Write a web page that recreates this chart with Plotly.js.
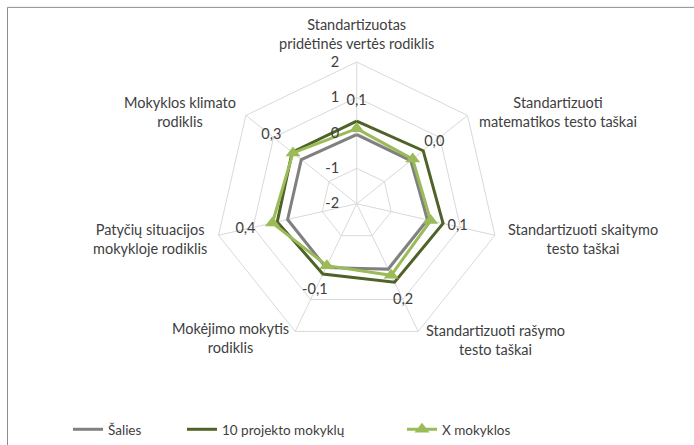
<!DOCTYPE html>
<html>
<head>
<meta charset="utf-8">
<script src="https://cdn.plot.ly/plotly-3.0.1.min.js"></script>
<style>
  html, body { margin: 0; padding: 0; background: #fff; }
  #plot { width: 694px; height: 445px; }
</style>
</head>
<body>
<div id="plot"></div>
<script>
// radar chart: standardized indicators
const categories = [
  'Standartizuotas<br>pridėtinės vertės rodiklis',
  'Standartizuoti<br>matematikos testo taškai',
  'Standartizuoti skaitymo<br>testo taškai',
  'Standartizuoti rašymo<br>testo taškai',
  'Mokėjimo mokytis<br>rodiklis',
  'Patyčių situacijos<br>mokykloje rodiklis',
  'Mokyklos klimato<br>rodiklis'
];
const salies = [-0.05, -0.05, 0.05, 0.05, 0.0, 0.0, 0.0];
const projekto = [0.33, 0.4, 0.5, 0.46, 0.2, 0.3, 0.33];
const xMokyklos = [0.12, 0.02, 0.14, 0.24, -0.06, 0.44, 0.3];
const radialTicks = [-2, -1, 0, 1, 2];
const radialTickText = ['-2', '-1', '0', '1', '2'];

const FONT = "Lato, 'Liberation Sans', sans-serif";
const FS = 14.5;
const TXT = '#404040';

function closed(arr) { return arr.concat([arr[0]]); }

// cliponaxis true: with a negative radial range plotly would hide the points otherwise
let gray = {
  type: 'scatterpolar',
  r: closed(salies), theta: closed(categories),
  mode: 'lines', name: 'Šalies',
  line: {color: '#808080', width: 3},
  cliponaxis: true,
  legend: 'legend'
};
let dark = {
  type: 'scatterpolar',
  r: closed(projekto), theta: closed(categories),
  mode: 'lines', name: '10 projekto mokyklų',
  line: {color: '#4f6228', width: 3},
  cliponaxis: true,
  legend: 'legend2'
};
let light = {
  type: 'scatterpolar',
  r: closed(xMokyklos), theta: closed(categories),
  mode: 'lines+markers', name: 'X mokyklos',
  line: {color: '#9bbb59', width: 3},
  marker: {symbol: 'triangle-up', size: 13, color: '#9bbb59'},
  cliponaxis: true,
  legend: 'legend3'
};
let labels = {
  type: 'scatterpolar',
  r: xMokyklos.map(v => v + 0.78), theta: categories,
  mode: 'text',
  text: xMokyklos.map(v => v.toFixed(1).replace('.', ',')),
  textfont: {family: FONT, size: FS, color: TXT},
  cliponaxis: true,
  showlegend: false, hoverinfo: 'skip'
};

// category labels, lines centred like in the original
const catPos = [
  [356.5, 35], [558, 113.5], [583, 243], [495, 345.5],
  [230, 343], [150, 243], [180, 114]
];
let annotations = categories.map((c, i) => ({
  xref: 'paper', yref: 'paper',
  x: catPos[i][0] / 694, y: 1 - catPos[i][1] / 445,
  xanchor: 'center', yanchor: 'middle', align: 'center',
  text: c, showarrow: false,
  font: {family: FONT, size: FS, color: TXT}
}));

const legFont = {family: FONT, size: 13.5, color: TXT};
const legY = 1 - 421 / 445;
let layout = {
  width: 694, height: 445,
  margin: {l: 0, r: 0, t: 0, b: 0},
  paper_bgcolor: '#fff',
  font: {family: FONT, size: FS, color: TXT},
  polar: {
    domain: {x: [212.7 / 694, 500.7 / 694], y: [1 - 351 / 445, 1 - 63 / 445]},
    gridshape: 'linear',
    bgcolor: '#fff',
    angularaxis: {
      direction: 'clockwise', rotation: 90,
      showticklabels: false, ticks: '',
      gridcolor: '#d9d9d9', linecolor: '#d9d9d9', showline: true
    },
    radialaxis: {
      range: [-2, 2], tickvals: radialTicks, ticktext: radialTickText,
      angle: 90, side: 'counterclockwise', tickangle: 90,
      showline: false, ticks: 'outside', ticklen: 12, tickcolor: 'rgba(0,0,0,0)',
      ticklabelshift: -10,
      gridcolor: '#d9d9d9',
      tickfont: {family: FONT, size: FS, color: TXT}
    }
  },
  legend: {orientation: 'h', x: 68 / 694, y: legY, xanchor: 'left', yanchor: 'top', font: legFont, bgcolor: 'rgba(0,0,0,0)'},
  legend2: {orientation: 'h', x: 182 / 694, y: legY, xanchor: 'left', yanchor: 'top', font: legFont, bgcolor: 'rgba(0,0,0,0)'},
  legend3: {orientation: 'h', x: 402 / 694, y: legY, xanchor: 'left', yanchor: 'top', font: legFont, bgcolor: 'rgba(0,0,0,0)'},
  annotations: annotations,
  shapes: [{
    type: 'rect', xref: 'paper', yref: 'paper',
    x0: 7.5 / 694, x1: 1.05, y0: -0.05, y1: 1 - 7.5 / 445,
    line: {color: '#8c8c8c', width: 1}
  }]
};

Plotly.newPlot('plot', [gray, dark, light, labels], layout, {displayModeBar: false, staticPlot: true});
</script>
</body>
</html>
